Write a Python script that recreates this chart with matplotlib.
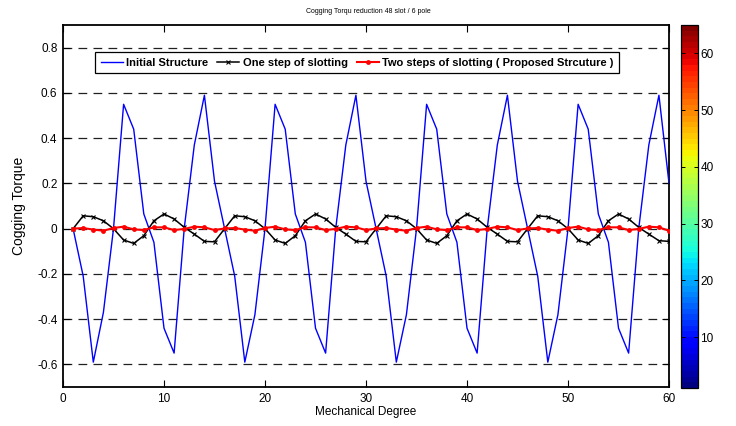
import numpy as np
import matplotlib
matplotlib.use("Agg")
import matplotlib.pyplot as plt
from matplotlib.colors import Normalize

plt.rcParams["font.family"] = ["Liberation Sans", "DejaVu Sans"]

# mechanical degree 1..60
degrees = list(range(1, 61))

initial_structure = [
    0.0, -0.21, -0.59, -0.37, 0.0, 0.55, 0.44, 0.065, -0.06, -0.44, -0.55, 0.0, 0.37, 0.59, 0.21,
    0.0, -0.21, -0.59, -0.38, 0.0, 0.55, 0.44, 0.065, -0.06, -0.44, -0.55, 0.0, 0.37, 0.59, 0.21,
    0.0, -0.21, -0.59, -0.38, 0.0, 0.55, 0.44, 0.065, -0.06, -0.44, -0.55, 0.0, 0.37, 0.59, 0.21,
    0.0, -0.21, -0.59, -0.38, 0.0, 0.55, 0.44, 0.065, -0.06, -0.44, -0.55, 0.0, 0.37, 0.59, 0.20,
]

one_step = [
    0.0, 0.057, 0.053, 0.035, 0.0, -0.05, -0.065, -0.031, 0.035, 0.065, 0.043, 0.006, -0.024, -0.056, -0.058,
    0.0, 0.057, 0.053, 0.035, 0.0, -0.05, -0.065, -0.031, 0.035, 0.065, 0.043, 0.006, -0.024, -0.056, -0.058,
    0.0, 0.057, 0.053, 0.035, 0.0, -0.05, -0.065, -0.031, 0.035, 0.065, 0.043, 0.006, -0.024, -0.056, -0.058,
    0.0, 0.057, 0.053, 0.035, 0.0, -0.05, -0.065, -0.031, 0.035, 0.065, 0.043, 0.006, -0.024, -0.053, -0.056,
]

two_steps = [
    0.0, 0.003, -0.004, -0.009, 0.003, 0.009, -0.003, -0.006, 0.006, 0.006, -0.006, -0.001, 0.009, 0.006, -0.006,
    0.001, 0.003, -0.004, -0.009, 0.003, 0.009, -0.003, -0.006, 0.006, 0.006, -0.006, -0.001, 0.009, 0.006, -0.006,
    0.001, 0.003, -0.004, -0.009, 0.003, 0.009, -0.003, -0.006, 0.006, 0.006, -0.006, -0.001, 0.009, 0.006, -0.006,
    0.001, 0.003, -0.004, -0.009, 0.003, 0.009, -0.003, -0.006, 0.006, 0.006, -0.006, -0.001, 0.009, 0.006, -0.009,
]

labels = [
    "Initial Structure",
    "One step of slotting",
    "Two steps of slotting ( Proposed Strcuture )",
]

x_ticks = [0, 10, 20, 30, 40, 50, 60]
y_ticks = [-0.6, -0.4, -0.2, 0, 0.2, 0.4, 0.6, 0.8]
cbar_ticks = [10, 20, 30, 40, 50, 60]

fig = plt.figure(figsize=(7.36, 4.26), dpi=100)
ax = fig.add_axes([0.0856, 0.0915, 0.8234, 0.8495])

for y in y_ticks:
    ax.axhline(y, color="#202020", lw=0.9, ls=(0, (7, 5)), zorder=1)

line1, = ax.plot(degrees, initial_structure, color="#0000ff", lw=1.0, zorder=3)
line2, = ax.plot(degrees, one_step, color="black", lw=1.1, marker="x",
                 markersize=2.5, markeredgewidth=0.8, zorder=4)
line3, = ax.plot(degrees, two_steps, color="#ff0000", lw=1.5, marker="o",
                 markersize=3.5, markeredgewidth=0, zorder=5)

ax.set_xlim(0, 60)
ax.set_ylim(-0.7, 0.9)
ax.set_xticks(x_ticks)
ax.set_yticks(y_ticks)
ax.set_yticklabels(["-0.6", "-0.4", "-0.2", "0", "0.2", "0.4", "0.6", "0.8"])
ax.tick_params(direction="in", length=5, width=0.8, top=True, right=True,
               labelsize=8.5, pad=4)
for s in ax.spines.values():
    s.set_linewidth(1.3)

ax.set_xlabel("Mechanical Degree", fontsize=8.5, labelpad=1)
ax.set_ylabel("Cogging Torque", fontsize=10, labelpad=8)
fig.text(0.5, 0.974, "Cogging Torqu reduction 48 slot / 6 pole",
         ha="center", va="center", fontsize=5,
         family=["Liberation Sans Narrow", "Liberation Sans", "DejaVu Sans"])

leg = ax.legend(
    handles=(line1, line2, line3),
    labels=labels,
    loc="upper left",
    bbox_to_anchor=(0.053, 0.925),
    borderaxespad=0,
    ncol=3,
    fancybox=False,
    framealpha=1,
    edgecolor="black",
    prop={"weight": "bold", "size": 8},
    handlelength=2.0,
    handletextpad=0.3,
    columnspacing=0.8,
    borderpad=0.5,
)
leg.get_frame().set_linewidth(0.9)

# colorbar
cax = fig.add_axes([0.925, 0.089, 0.023, 0.852])
cmap = matplotlib.colormaps["jet"].resampled(64)
sm = plt.cm.ScalarMappable(norm=Normalize(1, 65), cmap=cmap)
cb = fig.colorbar(sm, cax=cax, ticks=cbar_ticks)
cb.outline.set_linewidth(0.9)
cax.tick_params(direction="in", length=3, width=0.7, left=True, right=True,
                labelsize=8.5, pad=2)

plt.savefig("out.png", dpi=100)
